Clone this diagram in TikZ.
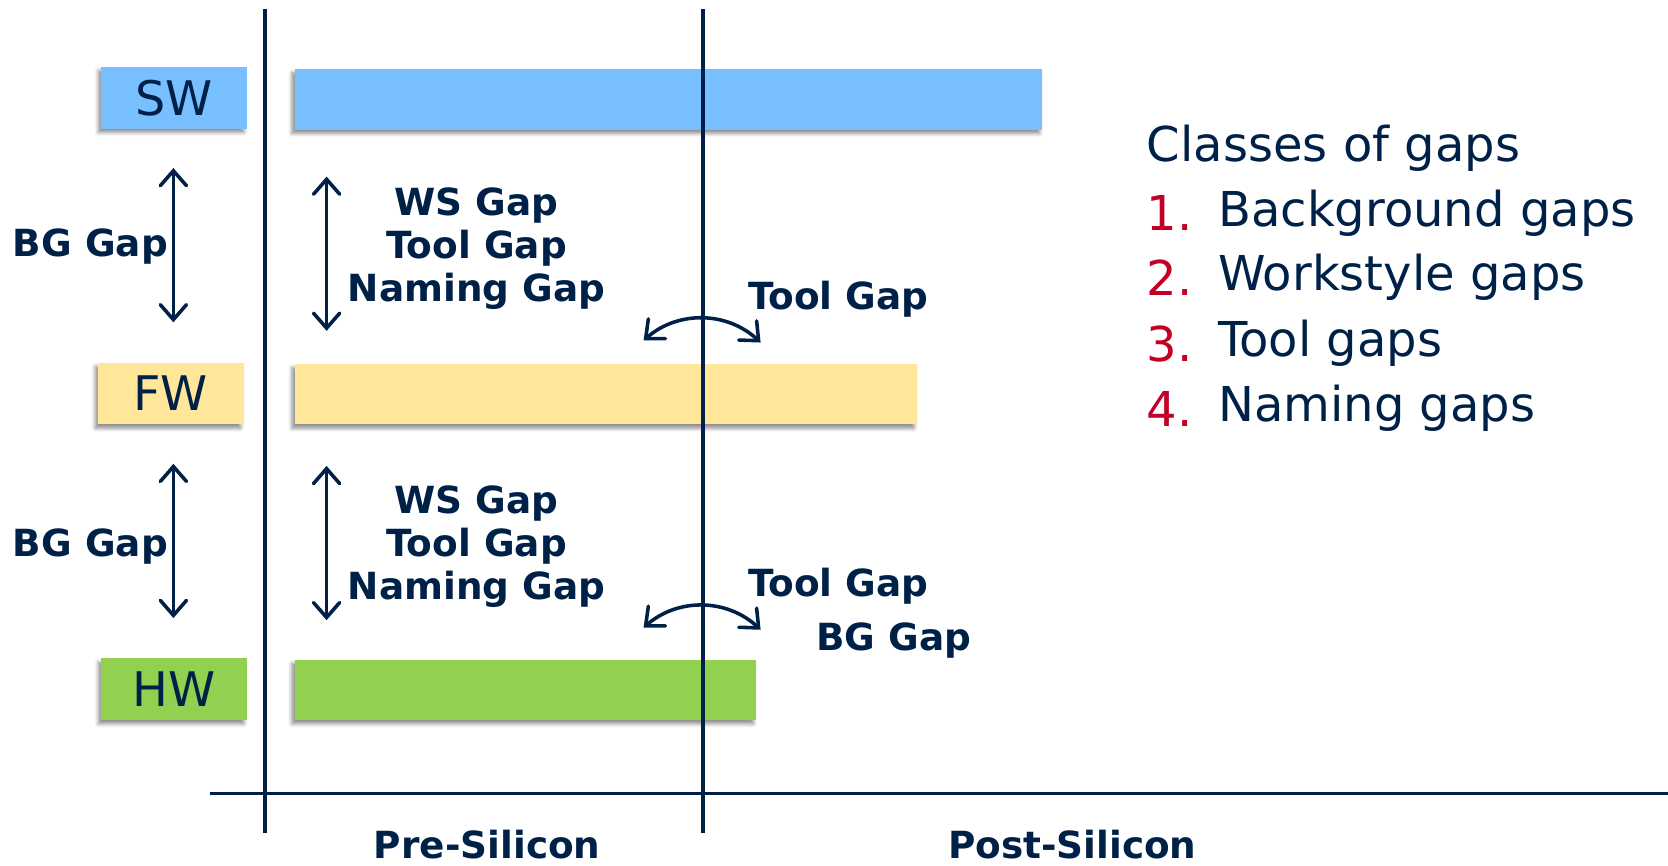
\documentclass[tikz,border=0pt]{standalone}
\usepackage{fontspec}
\setmainfont{DejaVu Sans}
\usepackage{tikz}
\usetikzlibrary{positioning,arrows.meta,shadows.blur}
\definecolor{navy}{HTML}{002147}
\definecolor{swblue}{HTML}{78BFFF}
\definecolor{fwyellow}{HTML}{FFE699}
\definecolor{hwgreen}{HTML}{92D050}
\definecolor{numred}{HTML}{C00025}

\begin{document}
\begin{tikzpicture}[x=0.02cm, y=-0.02cm, >={Straight Barb[length=8pt,width=14pt,line cap=round]}]
\tikzset{
layer/.style    = {shape=rectangle, minimum height=1.16cm, minimum width=2.74cm, text=navy, font=\fontsize{25.5}{30}\selectfont,
                   blur shadow={shadow xshift=-1.5pt, shadow yshift=-2pt, shadow blur radius=2pt, shadow opacity=45}},
bar/.style      = {shape=rectangle, minimum height=1.14cm,
                   blur shadow={shadow xshift=-1.5pt, shadow yshift=-2pt, shadow blur radius=2pt, shadow opacity=45}},
gap/.style      = {text=navy, font=\bfseries\fontsize{20}{23}\selectfont, align=center},
gaparrow/.style = {<->, draw=navy, line width=1.9pt},
axisline/.style = {draw=navy, line width=1.8pt},
item/.style     = {anchor=west, text=navy, font=\fontsize{25.7}{30}\selectfont},
num/.style      = {anchor=west, text=numred, font=\fontsize{25.7}{30}\selectfont},
}
    \useasboundingbox (0,0) rectangle (1568,814);

    % Layer boxes
    \node [layer, fill=swblue]    (sw)    at (163.5,92)  {SW};
    \node [layer, fill=fwyellow]  (fw)    at (160.5,370) {FW};
    \node [layer, fill=hwgreen]   (hw)    at (163.5,648) {HW};

    % Bars
    \node [bar, fill=swblue,   minimum width=14.06cm] (swbar) at (628.5,93.5) {};
    \node [bar, fill=fwyellow, minimum width=11.70cm] (fwbar) at (569.5,370.5) {};
    \node [bar, fill=hwgreen,  minimum width=8.68cm]  (hwbar) at (494,648.5) {};

    % Axes
    \draw [axisline] (249,8) -- (249,783);
    \draw [axisline] (661,8) -- (661,783);
    \draw [axisline] (197,746) -- (1568,746);

    % Gap arrow ends
    \coordinate (bgtop1)   at (163,158);
    \coordinate (bgbot1)   at (163,303);
    \coordinate (bgtop2)   at (163,436);
    \coordinate (bgbot2)   at (163,581);
    \coordinate (wstop1)   at (307,166);
    \coordinate (wsbot1)   at (307,311);
    \coordinate (wstop2)   at (307,438);
    \coordinate (wsbot2)   at (307,583);
    \coordinate (tlleft1)  at (605,320);
    \coordinate (tlright1) at (715,322);
    \coordinate (tlleft2)  at (605,590);
    \coordinate (tlright2) at (715,592);

    % Gap arrows
    \draw [gaparrow] (bgtop1) -- (bgbot1);
    \draw [gaparrow] (bgtop2) -- (bgbot2);
    \draw [gaparrow] (wstop1) -- (wsbot1);
    \draw [gaparrow] (wstop2) -- (wsbot2);
    \draw [gaparrow] (tlleft1) to[bend left=42] (tlright1);
    \draw [gaparrow] (tlleft2) to[bend left=42] (tlright2);

    % Gap labels
    \node [gap] (bglabel1)   at (85,232)  {BG Gap};
    \node [gap] (bglabel2)   at (85,514)  {BG Gap};
    \node [gap] (wslabel1)   at (448,234) {WS Gap\\Tool Gap\\Naming Gap};
    \node [gap] (wslabel2)   at (448,514) {WS Gap\\Tool Gap\\Naming Gap};
    \node [gap] (toollabel1) at (788,281) {Tool Gap};
    \node [gap] (toollabel2) at (788,551) {Tool Gap};
    \node [gap] (bglabel3)   at (840,602) {BG Gap};

    % Phases
    \node [gap, inner sep=0pt] (pre)  at (458,794)  {Pre-Silicon};
    \node [gap, inner sep=0pt] (post) at (1008,794) {Post-Silicon};

    % Classes of gaps
    \node [item] (classes) at (1072,139) {Classes of gaps};
    \node [num]  (n1) at (1072,200) {1.};
    \node [num]  (n2) at (1072,261) {2.};
    \node [num]  (n3) at (1072,323) {3.};
    \node [num]  (n4) at (1072,384) {4.};
    \node [item] (c1) at (1139,200) {Background gaps};
    \node [item] (c2) at (1139,261) {Workstyle gaps};
    \node [item] (c3) at (1139,323) {Tool gaps};
    \node [item] (c4) at (1139,384) {Naming gaps};

\end{tikzpicture}
\end{document}
